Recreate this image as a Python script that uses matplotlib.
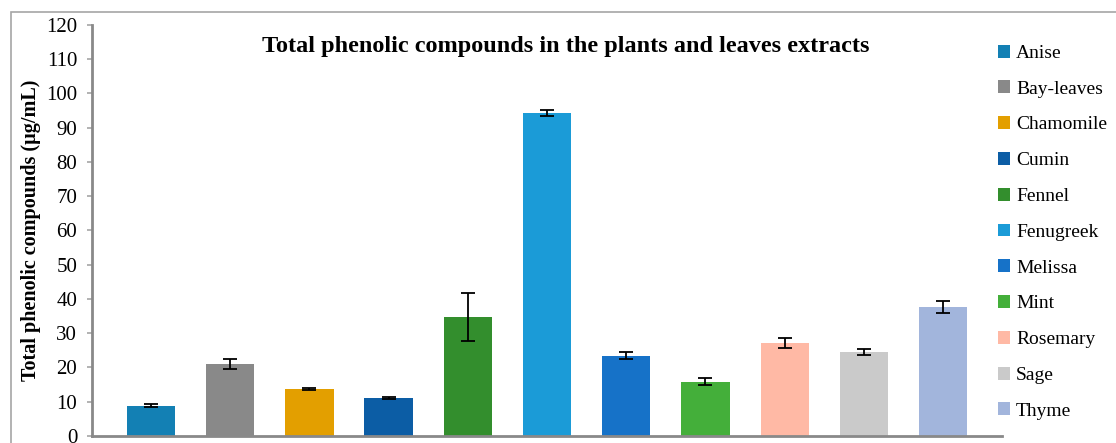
import numpy as np
import matplotlib.pyplot as plt
from matplotlib.patches import Rectangle

# data
plants = ['Anise', 'Bay-leaves', 'Chamomile', 'Cumin', 'Fennel', 'Fenugreek',
          'Melissa', 'Mint', 'Rosemary', 'Sage', 'Thyme']
phenolic = [8.8, 21.0, 13.7, 11.1, 34.7, 94.3, 23.4, 15.8, 27.2, 24.5, 37.7]
errors = [0.4, 1.4, 0.3, 0.3, 7.1, 1.0, 1.0, 1.0, 1.5, 0.9, 1.7]
colors = ['#1380B4', '#898989', '#E39F00', '#0C5DA5', '#338E2D', '#1B9BD7',
          '#1672C8', '#44AF3A', '#FFB9A5', '#CACACA', '#A2B5DC']

plt.rcParams['font.family'] = ['Liberation Serif', 'DejaVu Serif']

fig = plt.figure(figsize=(11.16, 4.43), dpi=100)
ax = fig.add_axes([0.0824, 0.0158, 0.8156, 0.9278])

# outer chart frame (cut by the image edges)
fig.patches.append(Rectangle((11 / 1116, -0.1), 1.2, 1 - 12 / 443 + 0.1,
                             transform=fig.transFigure, fill=False,
                             edgecolor='#A6A6A6', linewidth=1.2))

x = np.arange(len(plants))
bars = ax.bar(x, phenolic, width=0.61, color=colors, label=plants, zorder=2)
ax.errorbar(x, phenolic, yerr=errors, fmt='none', ecolor='black',
            elinewidth=1.3, capsize=5, capthick=1.3, zorder=3)

ax.set_xlim(-0.745, 10.745)
ax.set_ylim(0, 120)
ax.set_yticks(np.arange(0, 121, 10))
ax.set_xticks([])
ax.tick_params(axis='y', direction='out', length=3.6, width=1.2,
               color='#A6A6A6', labelsize=15, pad=7)
for s in ['top', 'right']:
    ax.spines[s].set_visible(False)
for s in ['left', 'bottom']:
    ax.spines[s].set_color('#898989')
    ax.spines[s].set_linewidth(2)
ax.set_ylabel('Total phenolic compounds (µg/mL)', fontsize=14.5,
              fontweight='bold', labelpad=4)

fig.text(0.507, 0.894, 'Total phenolic compounds in the plants and leaves extracts',
         ha='center', va='center', fontsize=17.5, fontweight='bold')

fig.legend(handles=bars, labels=plants, loc='upper left',
           bbox_to_anchor=(0.887, 0.917), frameon=False, fontsize=14,
           handlelength=0.65, handleheight=0.65, handletextpad=0.3,
           labelspacing=0.95, borderaxespad=0)

fig.savefig('out.png', dpi=100)
